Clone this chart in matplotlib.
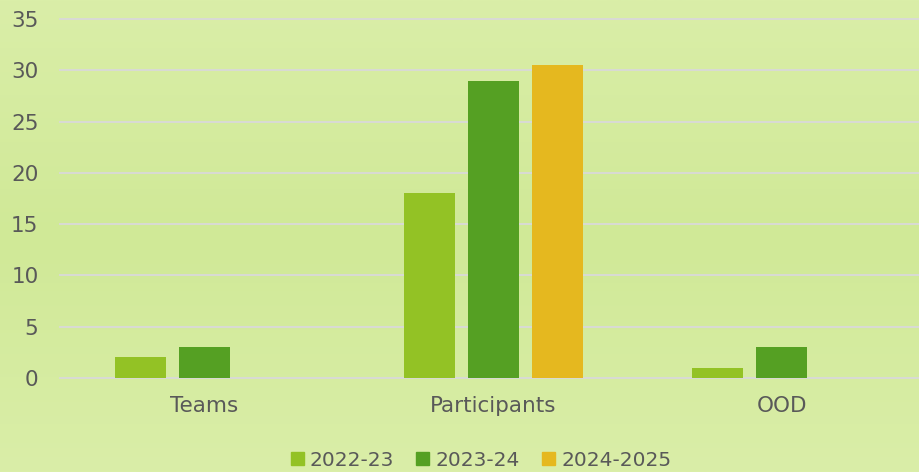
import numpy as np
import matplotlib
matplotlib.use('Agg')
import matplotlib.pyplot as plt
from matplotlib.colors import LinearSegmentedColormap
from matplotlib.patches import Patch

categories = ['Teams', 'Participants', 'OOD']
series = ['2022-23', '2023-24', '2024-2025']
vals_2022 = [2, 18, 1]
vals_2023 = [3, 29, 3]
vals_2024 = [0, 30.5, 0]
colors = ['#93c225', '#55a023', '#e5b81f']
yticks = [0, 5, 10, 15, 20, 25, 30, 35]

txt = '#595959'
plt.rcParams['font.family'] = ['DejaVu Sans']

fig = plt.figure(figsize=(9.2, 4.72), dpi=100)

# background gradient, lighter at top and bottom
bg = fig.add_axes([0, 0, 1, 1], zorder=-10)
grad = LinearSegmentedColormap.from_list('bg', ['#daeea8', '#d0e997', '#daeea8'])
bg.imshow(np.linspace(0, 1, 256).reshape(-1, 1), aspect='auto', cmap=grad,
          extent=[0, 1, 0, 1])
bg.axis('off')

ax = fig.add_axes([60 / 920, 1 - 378 / 472, 3 * 288.7 / 920, 359 / 472])
ax.patch.set_alpha(0)

x = np.arange(len(categories))
w = 51 / 288.7
step = 64 / 288.7
for i, (vals, c) in enumerate(zip([vals_2022, vals_2023, vals_2024], colors)):
    ax.bar(x + (i - 1) * step, vals, w, color=c, zorder=3)

ax.set_xlim(-0.5, 2.5)
ax.set_ylim(0, 35)
ax.set_yticks(yticks)
ax.set_xticks(x)
ax.set_xticklabels(categories)
ax.grid(axis='y', color='#d9d9d9', linewidth=1.3, zorder=0)
for gl in ax.get_ygridlines():
    gl.set_clip_on(False)
for s in ax.spines.values():
    s.set_visible(False)
ax.tick_params(axis='both', length=0, labelsize=15.5, colors=txt)
ax.tick_params(axis='y', pad=15.5)
ax.tick_params(axis='x', pad=13)

handles = [Patch(color=c, label=s) for c, s in zip(colors, series)]
fig.legend(handles=handles, loc='center', bbox_to_anchor=(481 / 920, 1 - 460 / 472),
           ncol=3, frameon=False, fontsize=14.5, labelcolor=txt,
           handlelength=0.65, handleheight=0.65, handletextpad=0.3, columnspacing=1.1)

fig.savefig('out.png', dpi=100)
